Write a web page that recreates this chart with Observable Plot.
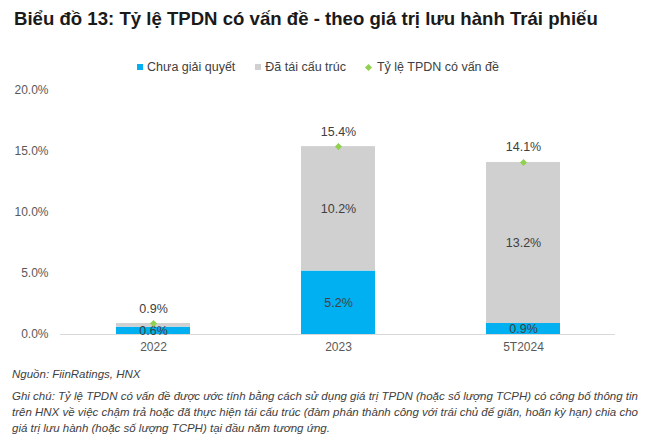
<!DOCTYPE html>
<html>
<head>
<meta charset="utf-8">
<script src="https://cdn.jsdelivr.net/npm/d3@7"></script>
<script src="https://cdn.jsdelivr.net/npm/@observablehq/plot@0.6"></script>
<style>
  body { margin: 0; background: #fff; font-family: "Liberation Sans", Arial, sans-serif; width: 650px; height: 439px; overflow: hidden; }
  #title { position: absolute; left: 14px; top: 8px; font-weight: bold; font-size: 18.6px; color: #1a1a1a; white-space: nowrap; }
  #legend { position: absolute; left: 0; width: 636px; top: 60px; display: flex; justify-content: center; gap: 20px; font-size: 12.5px; color: #404040; }
  #legend span.item { display: flex; align-items: center; }
  #legend .sw { display: inline-block; width: 6px; height: 6px; margin-right: 4px; }
  #legend .dia { display: inline-block; width: 5px; height: 5px; margin-right: 6px; transform: rotate(45deg); background: #92D050; }
  #chart { position: absolute; left: 0; top: 80px; }
  #notes { position: absolute; left: 12px; top: 366px; font-size: 11.5px; font-style: italic; color: #404040; line-height: 16px; }
</style>
</head>
<body>
<div id="title">Biểu đồ 13: Tỷ lệ TPDN có vấn đề - theo giá trị lưu hành Trái phiếu</div>
<div id="legend"></div>
<div id="chart"></div>
<div id="notes">
  <div>Nguồn: FiinRatings, HNX</div>
  <div style="margin-top:6px">Ghi chú: Tỷ lệ TPDN có vấn đề được ước tính bằng cách sử dụng giá trị TPDN (hoặc số lượng TCPH) có công bố thông tin<br>trên HNX về việc chậm trả hoặc đã thực hiện tái cấu trúc (đàm phán thành công với trái chủ để giãn, hoãn kỳ hạn) chia cho<br>giá trị lưu hành (hoặc số lượng TCPH) tại đầu năm tương ứng.</div>
</div>
<script>
const categories = ["2022", "2023", "5T2024"];
const unresolved = [0.6, 5.2, 0.9];      // Chưa giải quyết
const restructured = [0.3, 10.2, 13.2];  // Đã tái cấu trúc
const totals = [0.9, 15.4, 14.1];        // Tỷ lệ TPDN có vấn đề
const seriesNames = ["Chưa giải quyết", "Đã tái cấu trúc", "Tỷ lệ TPDN có vấn đề"];
const seriesColors = ["#00B0F0", "#D0D0D0", "#92D050"];
const yTicks = [0, 5, 10, 15, 20];

const rows = [];
categories.forEach((c, i) => {
  rows.push({cat: c, series: seriesNames[0], value: unresolved[i]});
  rows.push({cat: c, series: seriesNames[1], value: restructured[i]});
});
const totalRows = categories.map((c, i) => ({cat: c, value: totals[i]}));

// Legend
const legend = document.getElementById("legend");
seriesNames.forEach((n, i) => {
  const it = document.createElement("span");
  it.className = "item";
  const m = document.createElement("span");
  if (i < 2) { m.className = "sw"; m.style.background = seriesColors[i]; }
  else { m.className = "dia"; }
  it.appendChild(m);
  it.appendChild(document.createTextNode(n));
  legend.appendChild(it);
});

const fmt = v => v.toFixed(1) + "%";

const plot = Plot.plot({
  width: 650,
  height: 280,
  marginLeft: 60,
  marginRight: 35,
  marginTop: 10,
  marginBottom: 26,
  style: {fontFamily: "Liberation Sans, Arial, sans-serif", fontSize: "12px", color: "#595959", background: "#fff"},
  x: {domain: categories, paddingInner: 0.6, paddingOuter: 0.3, label: null, tickSize: 0, tickPadding: 8},
  y: {domain: [0, 20], ticks: yTicks, tickFormat: fmt, label: null, tickSize: 0, tickPadding: 12},
  color: {domain: seriesNames.slice(0, 2), range: seriesColors.slice(0, 2)},
  marks: [
    Plot.barY(rows, Plot.stackY({x: "cat", y: "value", fill: "series", order: seriesNames})),
    Plot.ruleY([0], {stroke: "#D9D9D9", strokeWidth: 1}),
    Plot.text(rows.filter(d => d.value >= 0.5), Plot.stackY({x: "cat", y: "value", z: "series", order: seriesNames, text: d => fmt(d.value), fill: "#404040", fontSize: 12.5})),
    Plot.dot(totalRows, {x: "cat", y: "value", symbol: "diamond2", r: 3.2, fill: seriesColors[2], stroke: null}),
    Plot.text(totalRows, {x: "cat", y: "value", text: d => fmt(d.value), dy: -15, fill: "#404040", fontSize: 12.5})
  ]
});
document.getElementById("chart").appendChild(plot);
</script>
</body>
</html>
